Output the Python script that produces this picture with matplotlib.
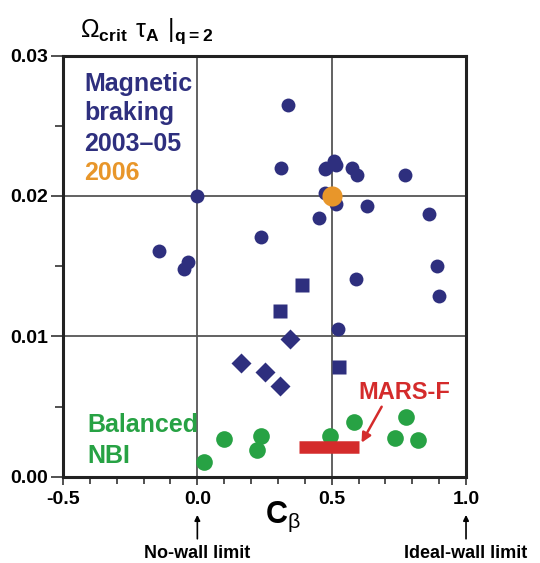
#!/usr/bin/env python3

'''Critical rotation at q=2 versus C_beta for magnetic braking and balanced NBI'''

import numpy as np
import matplotlib.pyplot as plt

from matplotlib.ticker import MultipleLocator

#---------------------------------------------------------------------------------------#
#		Data
#---------------------------------------------------------------------------------------#

#Magnetic braking 2003-05, circles
mb_circ_cb	= [0.336, 0.313, 0.474, 0.480, 0.509, 0.517, 0.574, 0.595, 0.772, 0.474,
		   0.515, 0.630, 0.451, 0.861, 0.000, 0.238, -0.144, -0.034, -0.048,
		   0.891, 0.901, 0.592, 0.524]
mb_circ_om	= [0.0265, 0.0220, 0.0219, 0.0220, 0.0225, 0.0222, 0.0220, 0.0215, 0.0215, 0.0202,
		   0.0194, 0.0193, 0.0184, 0.0187, 0.0200, 0.0171, 0.0161, 0.0153, 0.0148,
		   0.0150, 0.0129, 0.0141, 0.0105]

#Magnetic braking 2003-05, squares
mb_sq_cb	= [0.390, 0.309, 0.526]
mb_sq_om	= [0.0137, 0.0118, 0.0078]

#Magnetic braking 2003-05, diamonds
mb_dia_cb	= [0.346, 0.164, 0.253, 0.309]
mb_dia_om	= [0.0098, 0.0081, 0.0075, 0.0065]

#Magnetic braking 2006
mb06_cb		= [0.500]
mb06_om		= [0.0200]

#Balanced NBI
nbi_cb		= [0.023, 0.098, 0.237, 0.223, 0.492, 0.584, 0.777, 0.737, 0.820]
nbi_om		= [0.0011, 0.0027, 0.0029, 0.0019, 0.0029, 0.0039, 0.0043, 0.0028, 0.0026]

#MARS-F prediction
mars_cb		= [0.38, 0.60]
mars_om		= [0.0021, 0.0021]

#---------------------------------------------------------------------------------------#
#		Style
#---------------------------------------------------------------------------------------#

navy	= '#2e2f7e'
orange	= '#e8962a'
green	= '#27a244'
red	= '#d42b2b'

plt.rcParams['font.family']		= ['Liberation Sans', 'DejaVu Sans']
plt.rcParams['font.weight']		= 'bold'
plt.rcParams['mathtext.fontset']	= 'custom'
plt.rcParams['mathtext.rm']		= 'Liberation Sans:normal'
plt.rcParams['mathtext.bf']		= 'Liberation Sans:bold'

#---------------------------------------------------------------------------------------#
#		Plot
#---------------------------------------------------------------------------------------#

fig	= plt.figure(figsize=(5.40,5.63), dpi=100)
ax	= fig.add_axes([0.1167, 0.1528, 0.7463, 0.7486])

#Grid lines
for x in (0.0, 0.5):
	ax.axvline(x, color='#555555', lw=1.3, zorder=1)
for y in (0.01, 0.02):
	ax.axhline(y, color='#555555', lw=1.3, zorder=1)

ax.plot(mb_circ_cb, mb_circ_om, 'o', ms=10, color=navy, mec='none', zorder=3)
ax.plot(mb_sq_cb, mb_sq_om, 's', ms=9.5, color=navy, mec='none', zorder=3)
ax.plot(mb_dia_cb, mb_dia_om, 'D', ms=10.5, color=navy, mec='none', zorder=3)
ax.plot(mb06_cb, mb06_om, 'o', ms=14.5, color=orange, mec='none', zorder=4)
ax.plot(nbi_cb, nbi_om, 'o', ms=12, color=green, mec='none', zorder=3)

ax.plot(mars_cb, mars_om, '-', lw=9, color=red, solid_capstyle='butt', zorder=5)

ax.annotate('', xy=(0.611, 0.00244), xytext=(0.686, 0.00500),
		arrowprops=dict(arrowstyle='-|>', color=red, lw=1.8,
				mutation_scale=14, shrinkA=0, shrinkB=0), zorder=6)
ax.text(0.77, 0.0060, 'MARS-F', color=red, fontsize=17, ha='center', va='center')

#Legend-like labels, one line each
for y, label, col in ((0.02747, 'Magnetic', navy), (0.02541, 'braking', navy),
			(0.02320, '2003\u201305', navy), (0.02114, '2006', orange),
			(0.00320, 'Balanced', green), (0.00100, 'NBI', green)):
	ax.text(-0.42 if col != green else -0.41, y, label, color=col, fontsize=18,
			ha='left', va='baseline')

#Axes
ax.set_xlim(-0.5, 1.0)
ax.set_ylim(0.0, 0.03)

ax.xaxis.set_major_locator(MultipleLocator(0.5))
ax.xaxis.set_minor_locator(MultipleLocator(0.1))
ax.yaxis.set_major_locator(MultipleLocator(0.01))
ax.yaxis.set_minor_locator(MultipleLocator(0.005))

ax.set_xticklabels(['%.1f'% v for v in ax.get_xticks()])
ax.set_yticklabels(['%.2f'% v for v in ax.get_yticks()])

ax.tick_params(axis='both', which='both', direction='out', width=1.2, color='#333333',
		labelsize=14)
ax.tick_params(axis='x', which='major', length=6, pad=4)
ax.tick_params(axis='x', which='minor', length=5)
ax.tick_params(axis='y', which='major', length=9, pad=2)
ax.tick_params(axis='y', which='minor', length=6)
ax.tick_params(top=False, right=False)

for side in ax.spines.values():
	side.set_linewidth(2.2)
	side.set_color('#222222')

ax.text(0.546, -0.109, r'$\mathbf{C}_{\mathrm{\beta}}$', fontsize=22,
		ha='center', va='baseline', transform=ax.transAxes)
fig.text(0.148, 0.945, r'$\Omega_{\mathbf{crit}}\ \mathrm{\tau}_{\mathbf{A}}\ |_{\mathbf{q=2}}$',
		fontsize=18, ha='left', va='center')

#Marker arrows under the axis for the wall limits
for x, label in ((0.0, 'No-wall limit'), (1.0, 'Ideal-wall limit')):
	ax.annotate('', xy=(x, -0.0027), xytext=(x, -0.0044),
			annotation_clip=False,
			arrowprops=dict(arrowstyle='-|>', color='black', lw=1.2,
					mutation_scale=8, shrinkA=0, shrinkB=0))
	ax.text(x, -0.00580, label, fontsize=13, ha='center', va='baseline', clip_on=False)

fig.savefig('out.png', dpi=100)
